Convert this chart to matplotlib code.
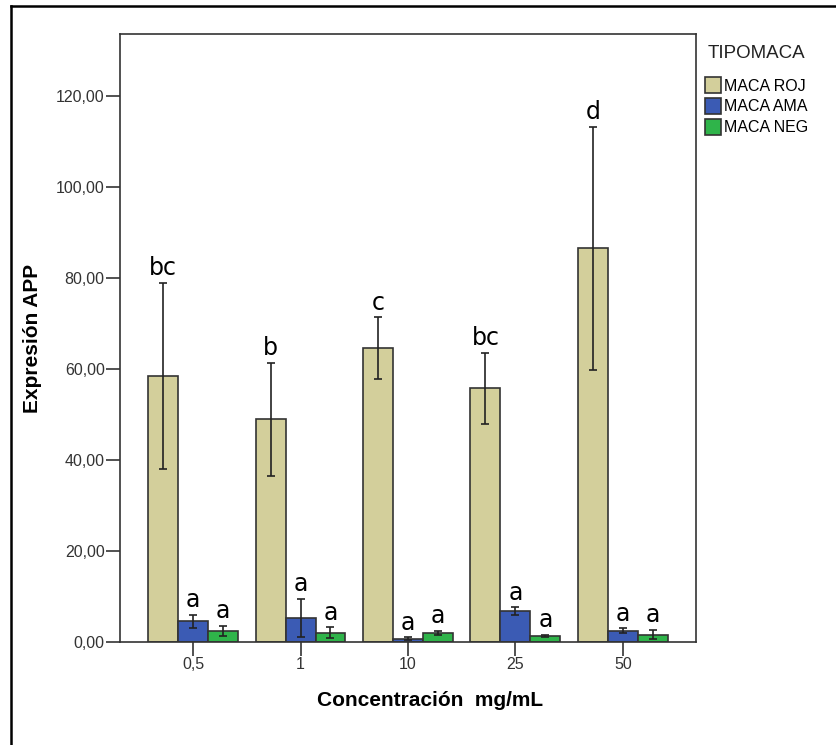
import matplotlib.pyplot as plt
import numpy as np
from matplotlib.lines import Line2D

plt.rcParams['font.family'] = ['Liberation Sans', 'DejaVu Sans']

concentraciones = ['0,5', '1', '10', '25', '50']
series = ['MACA ROJ', 'MACA AMA', 'MACA NEG']
colores = ['#d3cf9b', '#3b5bb4', '#2fb44a']

media_roj = [58.5, 48.9, 64.5, 55.7, 86.5]
error_roj = [20.4, 12.4, 6.8, 7.9, 26.7]
media_ama = [4.5, 5.3, 0.7, 6.8, 2.5]
error_ama = [1.4, 4.1, 0.3, 0.8, 0.5]
media_neg = [2.5, 2.0, 2.0, 1.4, 1.6]
error_neg = [1.1, 1.2, 0.5, 0.2, 1.0]

letras_roj = ['bc', 'b', 'c', 'bc', 'd']
letras_ama = ['a', 'a', 'a', 'a', 'a']
letras_neg = ['a', 'a', 'a', 'a', 'a']

medias = [media_roj, media_ama, media_neg]
errores = [error_roj, error_ama, error_neg]
letras = [letras_roj, letras_ama, letras_neg]

fig = plt.figure(figsize=(8.37, 7.45), dpi=100)
ax = fig.add_axes([0.1434, 0.1383, 0.688, 0.8161])

# marco exterior (solo izquierda y arriba visibles)
fig.add_artist(Line2D([0.0137, 0.0137], [0.0, 0.992], color='black', lw=1.8, transform=fig.transFigure))
fig.add_artist(Line2D([0.0137, 1.0], [0.992, 0.992], color='black', lw=1.8, transform=fig.transFigure))

x = np.arange(len(concentraciones))
ancho = 0.279
for i in range(3):
    pos = x + (i - 1) * ancho
    ax.bar(pos, medias[i], width=ancho, color=colores[i], edgecolor='#333333',
           linewidth=1.2, label=series[i], zorder=2)
    ax.errorbar(pos, medias[i], yerr=errores[i], fmt='none', ecolor='#222222',
                elinewidth=1.2, capsize=3, capthick=1.2, zorder=3)
    for j in range(len(x)):
        ax.text(pos[j], medias[i][j] + errores[i][j] + 0.6, letras[i][j],
                ha='center', va='bottom', fontsize=17, family='DejaVu Sans', zorder=4)

ax.set_xlim(-0.68, 4.68)
ax.set_ylim(0, 133.6)
ax.set_xticks(x)
ax.set_xticklabels(concentraciones, fontsize=11.5, color='#333333')
ax.set_yticks(np.arange(0, 121, 20))
ax.set_yticklabels([f'{v:.2f}'.replace('.', ',') for v in np.arange(0, 121, 20)],
                   fontsize=11.5, color='#333333')
ax.tick_params(direction='out', length=10, width=1.2, color='#333333', pad=1)
for s in ax.spines.values():
    s.set_color('#333333')
    s.set_linewidth(1.2)

ax.set_ylabel('Expresión APP', fontsize=15, fontweight='bold', labelpad=10)
ax.set_xlabel('Concentración  mg/mL', fontsize=15, fontweight='bold')
ax.xaxis.set_label_coords(0.538, -0.08)

# titulo de la leyenda aparte
fig.text(0.845, 0.928, 'TIPOMACA', fontsize=13.5, color='#222222', ha='left', va='center')
leg = ax.legend(loc='upper left', bbox_to_anchor=(1.005, 0.939),
                frameon=False, fontsize=11.5, handlelength=1.0,
                handleheight=1.1, handletextpad=0.2, labelspacing=0.3, borderaxespad=0)
for h in leg.legend_handles:
    h.set_edgecolor('#333333')

fig.savefig('out.png', dpi=100)
